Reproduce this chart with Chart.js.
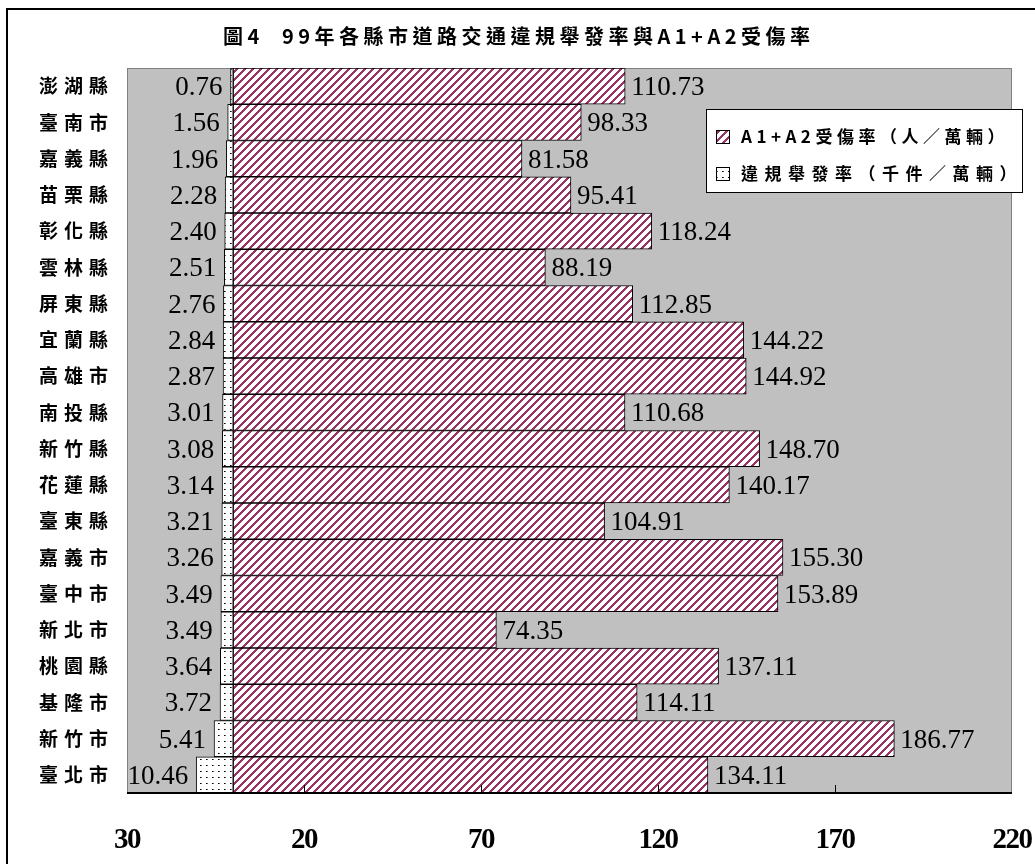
<!DOCTYPE html>
<html>
<head>
<meta charset="utf-8">
<title>99年各縣市道路交通違規舉發率與A1+A2受傷率</title>
<script src="https://cdn.jsdelivr.net/npm/chart.js@4.4.0/dist/chart.umd.min.js"></script>
<style>
  html, body { margin: 0; padding: 0; background: #fff; }
  #wrap { position: relative; width: 1035px; height: 864px; }
</style>
</head>
<body>
<div id="wrap"><canvas id="c" width="1035" height="864"></canvas></div>
<script>
// ---- data ----
const counties = ['澎湖縣', '臺南市', '嘉義縣', '苗栗縣', '彰化縣', '雲林縣', '屏東縣', '宜蘭縣', '高雄市', '南投縣',
                  '新竹縣', '花蓮縣', '臺東縣', '嘉義市', '臺中市', '新北市', '桃園縣', '基隆市', '新竹市', '臺北市'];
const injuryRate = [110.73, 98.33, 81.58, 95.41, 118.24, 88.19, 112.85, 144.22, 144.92, 110.68,
                    148.70, 140.17, 104.91, 155.30, 153.89, 74.35, 137.11, 114.11, 186.77, 134.11];
const violationRate = [0.76, 1.56, 1.96, 2.28, 2.40, 2.51, 2.76, 2.84, 2.87, 3.01,
                       3.08, 3.14, 3.21, 3.26, 3.49, 3.49, 3.64, 3.72, 5.41, 10.46];
const axisTicks = [-30, 20, 70, 120, 170, 220];
const seriesNames = ['A1+A2受傷率（人／萬輛）', '違規舉發率（千件／萬輛）'];
const chartTitle = '圖4  99年各縣市道路交通違規舉發率與A1+A2受傷率';

// ---- fill patterns ----
const canvas = document.getElementById('c');
const mainCtx = canvas.getContext('2d');

function makeStripes() {
  const t = document.createElement('canvas');
  t.width = 8; t.height = 8;
  const g = t.getContext('2d');
  g.fillStyle = '#ffffff';
  g.fillRect(0, 0, 8, 8);
  g.fillStyle = '#993366';
  for (let y = 0; y < 8; y++) {
    for (let x = 0; x < 8; x++) {
      if ((x + y) % 8 < 3) g.fillRect(x, y, 1, 1);
    }
  }
  return mainCtx.createPattern(t, 'repeat');
}

function makeDots() {
  const t = document.createElement('canvas');
  t.width = 6; t.height = 6;
  const g = t.getContext('2d');
  g.fillStyle = '#ffffff';
  g.fillRect(0, 0, 6, 6);
  g.fillStyle = '#000000';
  g.fillRect(2, 3, 1, 1);
  g.fillStyle = '#606060';
  g.fillRect(3, 3, 1, 1);
  return mainCtx.createPattern(t, 'repeat');
}

const stripeFill = makeStripes();
const dotFill = makeDots();

// ---- scales that draw their labels with letter spacing ----
class SpacedCategoryScale extends Chart.CategoryScale {
  drawLabels(area) {
    this.ctx.save();
    this.ctx.letterSpacing = '6px';
    super.drawLabels(area);
    this.ctx.restore();
  }
}
SpacedCategoryScale.id = 'spacedCategory';
SpacedCategoryScale.defaults = Chart.CategoryScale.defaults;

class TightLinearScale extends Chart.LinearScale {
  drawLabels(area) {
    this.ctx.save();
    this.ctx.letterSpacing = '-1.5px';
    super.drawLabels(area);
    this.ctx.restore();
  }
}
TightLinearScale.id = 'tightLinear';
TightLinearScale.defaults = Chart.LinearScale.defaults;

Chart.register(SpacedCategoryScale, TightLinearScale);

// ---- plot background, axis line and inward tick marks ----
const plotFrame = {
  id: 'plotFrame',
  beforeDatasetsDraw(chart) {
    const { ctx, chartArea: a } = chart;
    ctx.save();
    ctx.fillStyle = '#c0c0c0';
    ctx.fillRect(a.left, a.top, a.right - a.left, a.bottom - a.top);
    ctx.strokeStyle = '#808080';
    ctx.lineWidth = 1;
    ctx.strokeRect(a.left + 0.5, a.top + 0.5, a.right - a.left - 1, a.bottom - a.top - 1);
    ctx.restore();
  },
  afterDatasetsDraw(chart) {
    const { ctx, chartArea: a } = chart;
    const x = chart.scales.x;
    ctx.save();
    ctx.strokeStyle = '#000';
    ctx.lineWidth = 2;
    ctx.beginPath();
    ctx.moveTo(a.left, a.bottom);
    ctx.lineTo(a.right, a.bottom);
    ctx.stroke();
    ctx.lineWidth = 1;
    x.ticks.forEach((t, i) => {
      if (i === 0 || i === x.ticks.length - 1) return;
      const px = Math.round(x.getPixelForValue(t.value)) + 0.5;
      ctx.beginPath();
      ctx.moveTo(px, a.bottom);
      ctx.lineTo(px, a.bottom - 8);
      ctx.stroke();
    });
    ctx.restore();
  }
};

// ---- value labels at the bar ends ----
const valueLabels = {
  id: 'valueLabels',
  afterDatasetsDraw(chart) {
    const ctx = chart.ctx;
    ctx.save();
    ctx.font = '27px "Liberation Serif"';
    ctx.fillStyle = '#000';
    ctx.textBaseline = 'alphabetic';
    ctx.letterSpacing = '0px';
    const sources = [injuryRate, violationRate];
    chart.data.datasets.forEach((ds, di) => {
      const meta = chart.getDatasetMeta(di);
      meta.data.forEach((bar, i) => {
        const txt = sources[di][i].toFixed(2);
        if (ds.data[i] < 0) {
          ctx.textAlign = 'right';
          ctx.fillText(txt, bar.x - 8, bar.y + 9);
        } else {
          ctx.textAlign = 'left';
          ctx.fillText(txt, bar.x + 6, bar.y + 9);
        }
      });
    });
    ctx.restore();
  }
};

// ---- title, boxed legend and outer frame ----
const decorations = {
  id: 'decorations',
  afterDraw(chart) {
    const ctx = chart.ctx;
    ctx.save();

    // title
    ctx.font = 'bold 20px "Noto Sans CJK TC"';
    ctx.letterSpacing = '4.5px';
    ctx.fillStyle = '#000';
    ctx.textAlign = 'left';
    ctx.textBaseline = 'middle';
    ctx.fillText(chartTitle, 223, 36);

    // legend box
    const lx = 706, ly = 109, lw = 317, lh = 84;
    ctx.fillStyle = '#fff';
    ctx.fillRect(lx, ly, lw, lh);
    ctx.strokeStyle = '#000';
    ctx.lineWidth = 1;
    ctx.strokeRect(lx + 0.5, ly + 0.5, lw - 1, lh - 1);

    const rows = [137, 174];
    const spacing = ['4.5px', '6.5px'];
    ctx.font = 'bold 17px "Noto Sans CJK TC"';
    chart.data.datasets.forEach((ds, i) => {
      const cy = rows[i];
      ctx.fillStyle = ds.backgroundColor;
      ctx.fillRect(716, cy - 7, 14, 14);
      ctx.strokeStyle = '#000';
      ctx.strokeRect(716.5, cy - 6.5, 13, 13);
      ctx.fillStyle = '#000';
      ctx.letterSpacing = spacing[i];
      ctx.fillText(ds.label, 741, cy);
    });

    // outer frame
    ctx.letterSpacing = '0px';
    ctx.lineWidth = 2;
    ctx.strokeStyle = '#000';
    ctx.strokeRect(7, 9, 1100, 1000);
    ctx.restore();
  }
};

new Chart(canvas, {
  type: 'bar',
  data: {
    labels: counties,
    datasets: [
      {
        label: seriesNames[0],
        data: injuryRate,
        backgroundColor: stripeFill,
        borderColor: '#000',
        borderWidth: 1,
        borderSkipped: false
      },
      {
        label: seriesNames[1],
        data: violationRate.map(v => -v),
        backgroundColor: dotFill,
        borderColor: '#000',
        borderWidth: 1,
        borderSkipped: false
      }
    ]
  },
  options: {
    indexAxis: 'y',
    responsive: false,
    animation: false,
    devicePixelRatio: 1,
    categoryPercentage: 1,
    barPercentage: 1,
    layout: { padding: { top: 68, left: 0, right: 23, bottom: 0 } },
    plugins: {
      legend: { display: false },
      title: { display: false },
      tooltip: { enabled: false }
    },
    scales: {
      x: {
        type: 'tightLinear',
        stacked: true,
        min: axisTicks[0],
        max: axisTicks[axisTicks.length - 1],
        afterBuildTicks(scale) {
          scale.ticks = axisTicks.map(v => ({ value: v }));
        },
        afterFit(scale) {
          scale.height = 71;
          scale.paddingLeft = 0;
          scale.paddingRight = 0;
        },
        grid: { display: false, drawTicks: false },
        border: { display: false },
        ticks: {
          padding: 30,
          color: '#000',
          maxRotation: 0,
          autoSkip: false,
          font: { family: '"Liberation Serif"', size: 29, weight: 'bold' },
          callback: v => String(Math.abs(v))
        }
      },
      y: {
        type: 'spacedCategory',
        stacked: true,
        offset: true,
        afterFit(scale) { scale.width = 127; },
        grid: { display: false, drawTicks: false },
        border: { display: false },
        ticks: {
          padding: 13,
          color: '#000',
          autoSkip: false,
          font: { family: '"Noto Sans CJK TC"', size: 19, weight: 'bold' }
        }
      }
    }
  },
  plugins: [plotFrame, valueLabels, decorations]
});
</script>
</body>
</html>
